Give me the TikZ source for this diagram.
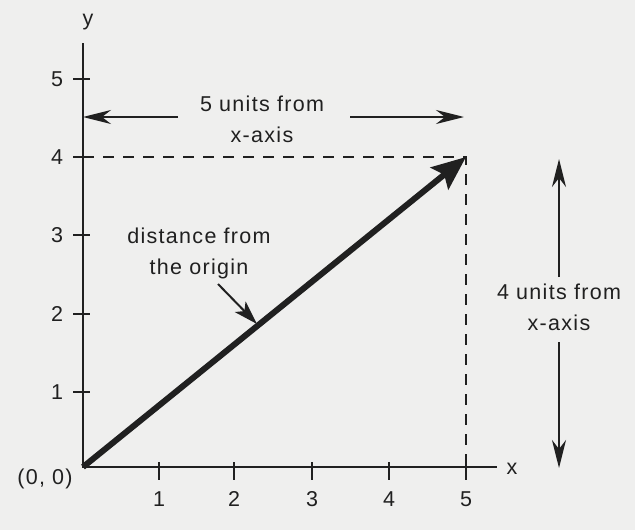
\documentclass[tikz,border=0pt]{standalone}
\usepackage{fontspec}
\setmainfont{Liberation Sans}[LetterSpace=6]
\usetikzlibrary{arrows.meta}
\definecolor{paper}{RGB}{239,239,238}
\definecolor{inkc}{RGB}{32,32,32}
\begin{document}
\begin{tikzpicture}[x=1pt,y=-1pt,
  ink/.style={draw=inkc, line width=2pt},
  lbl/.style={font=\fontsize{21.5}{31}\selectfont, text=inkc, inner sep=0pt, align=center},
  thinarrow/.style={ink, -{Stealth[length=28pt,width=14pt,inset=9pt]}},
  dashline/.style={ink, dash pattern=on 11pt off 9pt}]
\fill[paper] (0,0) rectangle (635,530);
\useasboundingbox (0,0) rectangle (635,530);
% axes
\coordinate (O) at (83,467);
\coordinate (ytop) at (83,43);
\coordinate (xend) at (497,467);
\coordinate (P) at (466,157);
\coordinate (y4) at (83,157);
\coordinate (x5) at (466,467);
\draw[ink] (ytop) -- (O) -- (xend);
\foreach \x/\t in {159/1,234/2,312/3,389/4,466/5}{
  \draw[ink] (\x,462) -- (\x,480);
  \node[lbl] (xl\t) at (\x,499) {\t};
}
\foreach \y/\t in {392/1,314/2,235/3,157/4,79/5}{
  \draw[ink] (73,\y) -- (90,\y);
  \node[lbl] (yl\t) at (57,\y) {\t};
}
\node[lbl] (orig) at (45,479) {(0, 0)};
\node[lbl] (ylab) at (88,22) {y};
\node[lbl] (xlab) at (512,469) {x};
% dashed guides
\draw[dashline] (y4) -- (P) -- (x5);
% main vector
\draw[draw=inkc, line width=6pt, -{Stealth[length=34pt,width=28pt,inset=6pt]}] (O) -- (P);
% top label
\node[lbl] (t5) at (262,119) {5 units from\\x-axis};
\coordinate (t5l) at (178,117);
\coordinate (t5r) at (350,117);
\coordinate (t5le) at (83,117);
\coordinate (t5re) at (464,117);
\draw[thinarrow] (t5l) -- (t5le);
\draw[thinarrow] (t5r) -- (t5re);
% right label
\node[lbl] (t4) at (559,307) {4 units from\\x-axis};
\coordinate (t4u) at (559,277);
\coordinate (t4ue) at (559,159);
\coordinate (t4d) at (559,342);
\coordinate (t4de) at (559,468);
\draw[thinarrow] (t4u) -- (t4ue);
\draw[thinarrow] (t4d) -- (t4de);
% distance label
\node[lbl] (dist) at (199,253) {distance from\\the origin};
\coordinate (da) at (218,284);
\coordinate (db) at (257,324);
\draw[draw=inkc, line width=2pt, -{Stealth[length=24pt,width=15pt,inset=6pt]}] (da) -- (db);
\end{tikzpicture}
\end{document}
